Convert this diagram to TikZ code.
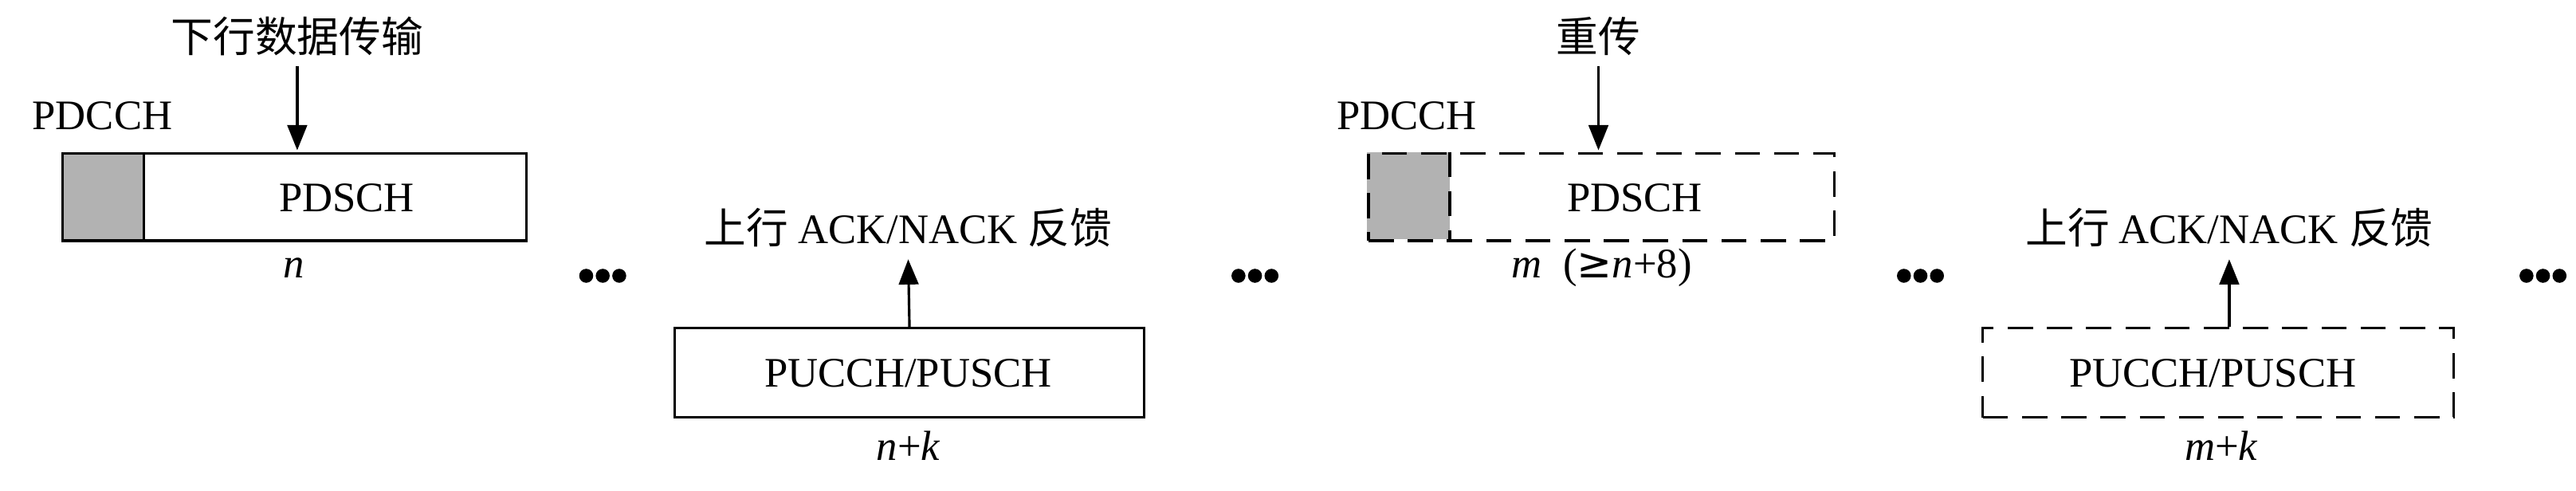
\documentclass[tikz,border=0pt]{standalone}
\usepackage{fontspec}
\setmainfont{Liberation Serif}
\newfontfamily\cjk{Noto Sans CJK SC}
\newfontfamily\sym{DejaVu Sans}
\usetikzlibrary{arrows.meta}
\begin{document}
\begin{tikzpicture}[x=0.02072cm,y=-0.02072cm,
  lbl/.style={font=\fontsize{15}{18}\selectfont,inner sep=0pt},
  frame/.style={draw,line width=0.9pt},
  dframe/.style={draw,line width=0.9pt,dash pattern=on 9pt off 5pt},
  arr/.style={line width=0.9pt,-{Triangle[length=9pt,width=7pt]}},
  dot/.style={fill,circle,inner sep=0pt,minimum size=5pt}]
\useasboundingbox (0,0) rectangle (1560,297);
% block 1
\node[lbl] (t1) at (180,22) {\cjk 下行数据传输};
\node[lbl] (c1) at (62,70) {PDCCH};
\fill[gray!60] (37,92) rectangle (87,145);
\draw[line width=0.9pt] (87,92) -- (87,145);
\node[frame,minimum width=281*0.02072cm,minimum height=53*0.02072cm,anchor=north west] (b1) at (37,92) {};
\node[lbl] (p1) at (210,120) {PDSCH};
\node[lbl] (n1) at (178,162) {\itshape n};
\coordinate (a1) at (180,91);
\draw[arr] (t1.south) ++(0,6) coordinate (s1) -- (a1);
% block 2
\node[lbl] (t2) at (550,138) {\cjk 上行\ \rmfamily ACK/NACK \cjk 反馈};
\node[frame,minimum width=284*0.02072cm,minimum height=54*0.02072cm,anchor=north west] (b2) at (408,198) {};
\node[lbl] (p2) at (550,226) {PUCCH/PUSCH};
\node[lbl] (n2) at (550,270) {\itshape n\upshape+\itshape k};
\coordinate (a2) at (550,157);
\draw[arr] (b2.north) -- (a2);
% block 3
\node[lbl] (t3) at (968,22) {\cjk 重传};
\node[lbl] (c3) at (852,70) {PDCCH};
\fill[gray!60] (828,92) rectangle (878,145);
\draw[dframe] (878,92) -- (878,145);
\node[dframe,minimum width=282*0.02072cm,minimum height=53*0.02072cm,anchor=north west] (b3) at (828,92) {};
\node[lbl] (p3) at (990,120) {PDSCH};
\node[lbl] (n3) at (970,162) {\itshape m\upshape\ \ (\sym ≥\rmfamily\itshape n\upshape+8)};
\coordinate (a3) at (968,91);
\draw[arr] (t3.south) ++(0,6) -- (a3);
% block 4
\node[lbl] (t4) at (1350,138) {\cjk 上行\ \rmfamily ACK/NACK \cjk 反馈};
\node[dframe,minimum width=285*0.02072cm,minimum height=54*0.02072cm,anchor=north west] (b4) at (1200,198) {};
\node[lbl] (p4) at (1340,226) {PUCCH/PUSCH};
\node[lbl] (n4) at (1345,270) {\itshape m\upshape+\itshape k};
\coordinate (a4) at (1350,157);
\draw[arr] (1350,198) -- (a4);
% dots
\foreach \x in {365,760,1163,1540}{
  \foreach \d in {-10,0,10} \node[dot] at (\x+\d,167) {};
}
\end{tikzpicture}
\end{document}
